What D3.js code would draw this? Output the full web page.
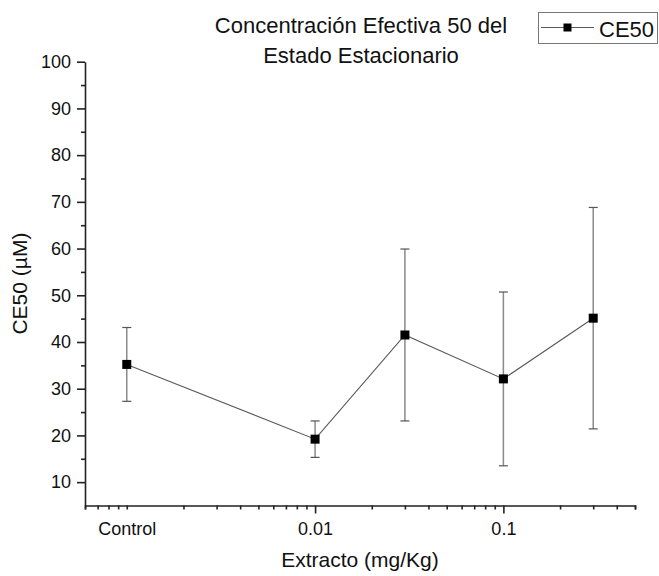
<!DOCTYPE html>
<html>
<head>
<meta charset="utf-8">
<script src="https://cdn.jsdelivr.net/npm/d3@7"></script>
<style>
  body { margin: 0; background: #fff; }
  svg { display: block; font-family: "Liberation Sans", Arial, sans-serif; }
  .axis path, .axis line { stroke: #222; stroke-width: 1.6; }
  .axis text { fill: #111; font-size: 18px; font-family: "Liberation Sans", Arial, sans-serif; }
</style>
</head>
<body>
<div id="chart"></div>
<script>
// data
var doses = [0.001, 0.01, 0.03, 0.1, 0.3];      // 0.001 = Control
var ce50  = [35.2, 19.2, 41.5, 32.1, 45.1];
var err   = [7.9, 3.9, 18.4, 18.6, 23.7];
var xLabels = {0.001: "Control", 0.01: "0.01", 0.1: "0.1"};
var yMajor = [10, 20, 30, 40, 50, 60, 70, 80, 90, 100];
var yMinor = [15, 25, 35, 45, 55, 65, 75, 85, 95];

var width = 659, height = 576;

var x = d3.scaleLog()
    .domain([0.0006, 0.5])
    .range([85, 635]);

var y = d3.scaleLinear()
    .domain([5, 100])
    .range([505.5, 61.7]);

var svg = d3.select("#chart").append("svg")
    .attr("width", width)
    .attr("height", height);

// y axis, minor ticks first
svg.append("g")
    .attr("class", "axis")
    .attr("transform", "translate(" + x.range()[0] + ",0)")
    .call(d3.axisLeft(y).tickValues(yMinor).tickSize(4).tickFormat(""))
    .select(".domain").remove();

svg.append("g")
    .attr("class", "axis")
    .attr("transform", "translate(" + x.range()[0] + ",0)")
    .call(d3.axisLeft(y).tickValues(yMajor).tickSize(8).tickSizeOuter(0).tickPadding(6));

// x axis (log), long ticks only at decades with labels
var xAxis = svg.append("g")
    .attr("class", "axis")
    .attr("transform", "translate(0," + y.range()[0] + ")")
    .call(d3.axisBottom(x)
      .tickValues(x.ticks())
      .tickSizeOuter(0)
      .tickSize(4)
      .tickPadding(12.7)
      .tickFormat(d => xLabels[d] || ""));

xAxis.selectAll(".tick line")
    .attr("y2", d => (d === 0.01 || d === 0.1) ? 8 : 4);

// axis titles
svg.append("text")
    .attr("x", (x.range()[0] + x.range()[1]) / 2)
    .attr("y", 567)
    .attr("text-anchor", "middle")
    .style("font-size", "21px")
    .attr("fill", "#111")
    .text("Extracto (mg/Kg)");

svg.append("text")
    .attr("transform", "translate(27," + ((y.range()[0] + y.range()[1]) / 2) + ") rotate(-90)")
    .attr("text-anchor", "middle")
    .style("font-size", "21px")
    .attr("fill", "#111")
    .text("CE50 (µM)");

// title
svg.append("text")
    .attr("x", 361).attr("y", 33.3)
    .attr("text-anchor", "middle")
    .style("font-size", "22px")
    .attr("fill", "#111")
    .text("Concentración Efectiva 50 del");
svg.append("text")
    .attr("x", 361).attr("y", 63.3)
    .attr("text-anchor", "middle")
    .style("font-size", "22px")
    .attr("fill", "#111")
    .text("Estado Estacionario");

var pts = doses.map((d, i) => ({dose: d, v: ce50[i], e: err[i]}));

// error bars
var eb = svg.append("g").attr("stroke", "#8a8a8a").attr("stroke-width", 1.5);
pts.forEach(p => {
  var cx = x(p.dose);
  eb.append("line")
      .attr("x1", cx).attr("x2", cx)
      .attr("y1", y(p.v - p.e)).attr("y2", y(p.v + p.e));
  [p.v - p.e, p.v + p.e].forEach(v => {
    eb.append("line")
        .attr("stroke", "#555").attr("stroke-width", 1.2)
        .attr("x1", cx - 4.5).attr("x2", cx + 4.5)
        .attr("y1", y(v)).attr("y2", y(v));
  });
});

// connecting line
svg.append("path")
    .datum(pts)
    .attr("fill", "none")
    .attr("stroke", "#5a5a5a")
    .attr("stroke-width", 1.1)
    .attr("d", d3.line().x(d => x(d.dose)).y(d => y(d.v)));

// markers
svg.selectAll("rect.pt")
    .data(pts)
    .enter().append("rect")
    .attr("class", "pt")
    .attr("x", d => x(d.dose) - 4.5)
    .attr("y", d => y(d.v) - 4.5)
    .attr("width", 9).attr("height", 9)
    .attr("fill", "#000");

// legend
var lg = svg.append("g");
lg.append("rect")
    .attr("x", 538.5).attr("y", 12.5)
    .attr("width", 119).attr("height", 31)
    .attr("fill", "#fff")
    .attr("stroke", "#777").attr("stroke-width", 1);
lg.append("line")
    .attr("x1", 541).attr("x2", 594)
    .attr("y1", 27.5).attr("y2", 27.5)
    .attr("stroke", "#5a5a5a").attr("stroke-width", 1.1);
lg.append("rect")
    .attr("x", 563.5).attr("y", 23.5)
    .attr("width", 8).attr("height", 8)
    .attr("fill", "#000");
lg.append("text")
    .attr("x", 599).attr("y", 36.5)
    .style("font-size", "22px")
    .attr("fill", "#111")
    .text("CE50");
</script>
</body>
</html>
